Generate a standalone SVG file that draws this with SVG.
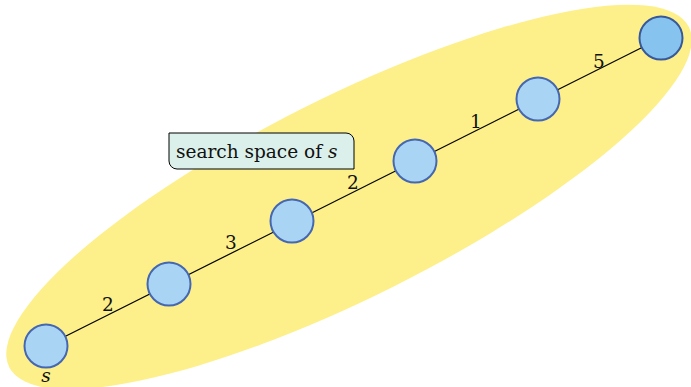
<svg xmlns="http://www.w3.org/2000/svg" width="691" height="387" viewBox="0 0 691 387">
<style>
.node{fill:#a9d4f3;stroke:#4566b0;stroke-width:2}
.last{fill:#87c3ef;stroke:#38589a;stroke-width:2}
text{font-family:"DejaVu Serif","Liberation Serif",serif;font-size:18.5px;fill:#111}
.edge{stroke:#000;stroke-width:1.2}
</style>
<rect width="691" height="387" fill="#fff"/>
<ellipse cx="349" cy="197" rx="380" ry="100" fill="#fdf08a" transform="rotate(-26.6 349 197)"/>
<g id="connectors">
<line class="edge" x1="46" y1="346" x2="661" y2="38"/>
<text x="108" y="311" text-anchor="middle">2</text>
<text x="231" y="249" text-anchor="middle">3</text>
<text x="353" y="189" text-anchor="middle">2</text>
<text x="476" y="128" text-anchor="middle">1</text>
<text x="599" y="68" text-anchor="middle">5</text>
</g>
<g id="label">
<path d="M169,133 H346 A8,8 0 0 1 354,141 V169 H177 A8,8 0 0 1 169,161 Z" fill="#dbf0ea" stroke="#000" stroke-width="1"/>
<text x="176" y="158">search space of <tspan font-style="italic">s</tspan></text>
</g>
<g id="n1"><circle class="node" cx="46" cy="346" r="21.5"/><text x="46" y="382" text-anchor="middle" font-style="italic">s</text></g>
<g id="n2"><circle class="node" cx="169" cy="284" r="21.5"/></g>
<g id="n3"><circle class="node" cx="292" cy="221" r="21.5"/></g>
<g id="n4"><circle class="node" cx="415" cy="161" r="21.5"/></g>
<g id="n5"><circle class="node" cx="538" cy="99" r="21.5"/></g>
<g id="n6"><circle class="last" cx="661" cy="38" r="21.5"/></g>
</svg>
